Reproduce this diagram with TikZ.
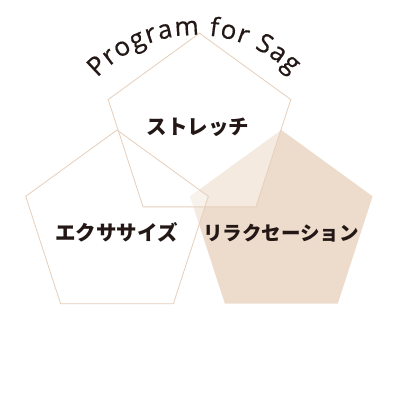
\documentclass[tikz,border=0pt]{standalone}
\usepackage{fontspec}
\newfontfamily\jpfont{Noto Sans CJK JP}
\newfontfamily\arcfont[FakeBold=0.5]{Open Sans}
\usetikzlibrary{calc}
\definecolor{ink}{HTML}{231815}
\definecolor{tanline}{HTML}{E6CFBA}
\definecolor{beige}{HTML}{EDDCCC}
\begin{document}
\begin{tikzpicture}[x=1pt,y=1pt,
  pentfill/.style={fill=white, fill opacity=0.4},
  pentline/.style={draw=tanline, line width=0.8pt},
  jplabel/.style={font=\jpfont\bfseries\fontsize{20.5}{20.5}\selectfont, text=ink, anchor=base, inner sep=0pt},
  arcletter/.style={font=\arcfont\fontsize{26}{26}\selectfont, text=ink, anchor=base, inner sep=0pt}]
\useasboundingbox (0,0) rectangle (400,400);
\fill[white] (0,0) rectangle (400,400);
\coordinate (ct) at (199.5,270.8);
\coordinate (cl) at (117,174);
\coordinate (cr) at (281.3,174);
\coordinate (arcc) at (196,230);
% right pentagon (filled)
\fill[beige, shift={(cr)}] (90:96) -- (162:96) -- (234:96) -- (306:96) -- (18:96) -- cycle;
% translucent white fills of the other two
\fill[pentfill, shift={(cl)}] (90:96) -- (162:96) -- (234:96) -- (306:96) -- (18:96) -- cycle;
\fill[pentfill, shift={(ct)}] (90:96) -- (162:96) -- (234:96) -- (306:96) -- (18:96) -- cycle;
% outlines
\draw[pentline, shift={(cl)}] (90:96) -- (162:96) -- (234:96) -- (306:96) -- (18:96) -- cycle;
\draw[pentline, shift={(ct)}] (90:96) -- (162:96) -- (234:96) -- (306:96) -- (18:96) -- cycle;
% labels
\node[jplabel] (stretch) at (198,265.4) {ストレッチ};
\node[jplabel] (exercise) at (116.5,159.9) {エクササイズ};
\node[jplabel, font=\jpfont\bfseries\fontsize{19.5}{19.5}\selectfont] (relax) at (281,159.9) {リラクセーション};
% curved title
\foreach \ch/\p [count=\i] in {P/7.84, r/22.32, o/36.82, g/53.14, r/66.92, a/80.80, m/101.70,
    f/128.01, o/141.75, r/156.24, S/177.97, a/193.52, g/209.22} {
  \pgfmathsetmacro\ang{91-(\p-108.2)/135*57.2958}
  \node[arcletter, rotate=\ang-90] (t\i) at ($(arcc)+(\ang:135)$) {\ch};
}
\end{tikzpicture}
\end{document}
